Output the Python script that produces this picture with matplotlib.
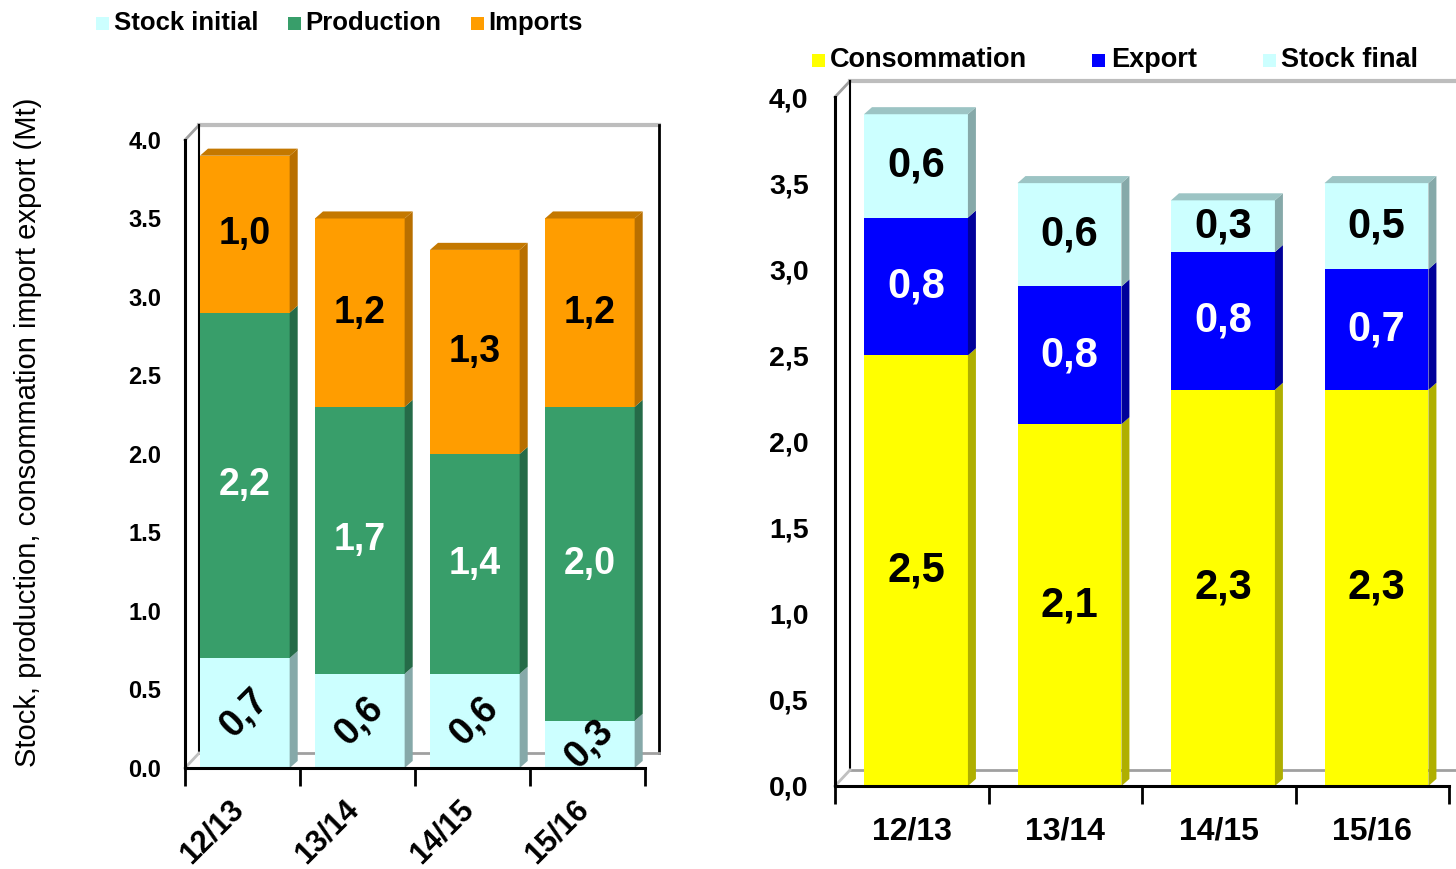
import matplotlib
matplotlib.use("Agg")
import matplotlib.pyplot as plt
from matplotlib.patches import Polygon, Rectangle
import numpy as np

plt.rcParams['font.family'] = ['Liberation Sans', 'DejaVu Sans']

categories = ["12/13", "13/14", "14/15", "15/16"]
stock_initial = [0.7, 0.6, 0.6, 0.3]
production = [2.2, 1.7, 1.4, 2.0]
imports = [1.0, 1.2, 1.3, 1.2]
consommation = [2.5, 2.1, 2.3, 2.3]
export = [0.8, 0.8, 0.8, 0.7]
stock_final = [0.6, 0.6, 0.3, 0.5]
yticks = [0.0, 0.5, 1.0, 1.5, 2.0, 2.5, 3.0, 3.5, 4.0]

W, H = 1456, 869
fig = plt.figure(figsize=(W / 100, H / 100), dpi=100)
fig.patch.set_facecolor("white")


def fx(px):
    return px / W


def fy(py):
    return 1 - py / H


def fmt(v):
    return f"{v:.1f}".replace(".", ",")


def draw_panel(ax, series, colors, sides, top_color, txt_colors, bar_left, bar_w,
               dxb, dyb, dxw, dyw, vsize, rot_first, ytick_fmt, ytick_size, ypad):
    n = len(categories)
    x = np.arange(n)
    ax.set_xlim(-0.5, n - 0.5)
    ax.set_ylim(0, 4)
    # back wall frame
    wl = -0.5 + dxw
    wr = n - 0.5 + dxw
    ax.plot([wl, wr], [4 + dyw, 4 + dyw], color="#bdbdbd", lw=3, clip_on=False, zorder=1)
    ax.plot([-0.5, wl], [4, 4 + dyw], color="#a0a0a0", lw=2, clip_on=False, zorder=1)
    ax.plot([wl, wl], [dyw, 4 + dyw], color="black", lw=1.5, clip_on=False, zorder=1)
    ax.plot([wr, wr], [dyw, 4 + dyw], color="black", lw=2, clip_on=False, zorder=1)
    ax.plot([wl, wr], [dyw, dyw], color="#a0a0a0", lw=2, clip_on=False, zorder=1)
    ax.plot([-0.5, wl], [0, dyw], color="#c0c0c0", lw=2, clip_on=False, zorder=1)

    bottoms = np.zeros(n)
    for si, vals in enumerate(series):
        vals = np.array(vals)
        ax.bar(x + bar_left, vals, width=bar_w, bottom=bottoms, align="edge",
               color=colors[si], edgecolor="none", zorder=3)
        for i in range(n):
            x1 = x[i] + bar_left + bar_w
            y0 = bottoms[i]
            y1 = bottoms[i] + vals[i]
            ax.add_patch(Polygon([(x1, y0), (x1 + dxb, y0 + dyb), (x1 + dxb, y1 + dyb), (x1, y1)],
                                 closed=True, facecolor=sides[si], edgecolor="none", zorder=3,
                                 clip_on=False))
            cx = x[i] + bar_left + bar_w / 2
            cy = y0 + vals[i] / 2
            rot = 45 if (si == 0 and rot_first) else 0
            ax.text(cx, cy, fmt(vals[i]), ha="center", va="center", rotation=rot,
                    fontsize=vsize, fontweight="bold", color=txt_colors[si], zorder=5)
        bottoms = bottoms + vals
    for i in range(n):
        x0 = x[i] + bar_left
        x1 = x0 + bar_w
        y1 = bottoms[i]
        ax.add_patch(Polygon([(x0, y1), (x0 + dxb, y1 + dyb), (x1 + dxb, y1 + dyb), (x1, y1)],
                             closed=True, facecolor=top_color, edgecolor="none", zorder=3,
                             clip_on=False))

    for s in ["top", "right"]:
        ax.spines[s].set_visible(False)
    for s in ["left", "bottom"]:
        ax.spines[s].set_linewidth(2.2)
        ax.spines[s].set_color("black")
        ax.spines[s].set_zorder(4)
    ax.set_facecolor("none")
    ax.set_yticks(yticks)
    ax.set_yticklabels([ytick_fmt(v) for v in yticks], fontsize=ytick_size, fontweight="bold")
    ax.tick_params(axis="y", length=0, pad=ypad)
    ax.set_xticks(np.arange(n + 1) - 0.5)
    ax.set_xticklabels([])
    ax.tick_params(axis="x", which="major", length=13, width=2, direction="out")


# Left panel
axL = fig.add_axes([fx(185), fy(768), fx(460), 628 / H])
draw_panel(axL,
           [stock_initial, production, imports],
           ["#CCFFFF", "#389E6A", "#FF9D00"],
           ["#86A9A9", "#256B48", "#B86F00"],
           "#C47800",
           ["black", "white", "black"],
           bar_left=-0.37, bar_w=0.78, dxb=0.07, dyb=0.045, dxw=0.122, dyw=0.095,
           vsize=27, rot_first=True, ytick_fmt=lambda v: f"{v:.1f}", ytick_size=17,
           ypad=17)
for i, c in enumerate(categories):
    axL.annotate(c, xy=(i - 0.265, 0), xycoords=("data", "axes fraction"),
                 xytext=(0, -46), textcoords="offset points", rotation=45,
                 ha="center", va="center", rotation_mode="anchor",
                 fontsize=22, fontweight="bold")
axL.set_ylabel("Stock, production, consommation import export (Mt)", fontsize=21)
axL.yaxis.set_label_coords(-0.311, 0.535)

# Right panel
axR = fig.add_axes([fx(835), fy(786), fx(614), 689 / H])
draw_panel(axR,
           [consommation, export, stock_final],
           ["#FFFF00", "#0000FF", "#CCFFFF"],
           ["#AFAF00", "#00009A", "#86A9A9"],
           "#9CC4C4",
           ["black", "white", "black"],
           bar_left=-0.311, bar_w=0.677, dxb=0.052, dyb=0.041, dxw=0.098, dyw=0.093,
           vsize=30, rot_first=False, ytick_fmt=fmt, ytick_size=20.5, ypad=19)
axR.set_xticks(np.arange(len(categories)), minor=True)
axR.set_xticklabels(categories, minor=True, fontsize=23, fontweight="bold")
axR.tick_params(axis="x", which="minor", length=0, pad=22)


# Legends
def legend(items, y, size):
    for (sq, tx, label, col) in items:
        fig.patches.append(Rectangle((fx(sq), fy(y + 6.5)), fx(12.5), 12.5 / H,
                                     transform=fig.transFigure, facecolor=col,
                                     edgecolor="none"))
        fig.text(fx(tx), fy(y), label, fontsize=size, fontweight="bold",
                 ha="left", va="center")


legend([(96, 114, "Stock initial", "#CCFFFF"),
        (288, 305, "Production", "#389E6A"),
        (471, 488, "Imports", "#FF9D00")], 23, 18.5)
legend([(812, 830, "Consommation", "#FFFF00"),
        (1092, 1111, "Export", "#0000FF"),
        (1263, 1281, "Stock final", "#CCFFFF")], 60, 19.5)

fig.savefig("out.png", dpi=100, facecolor="white")
